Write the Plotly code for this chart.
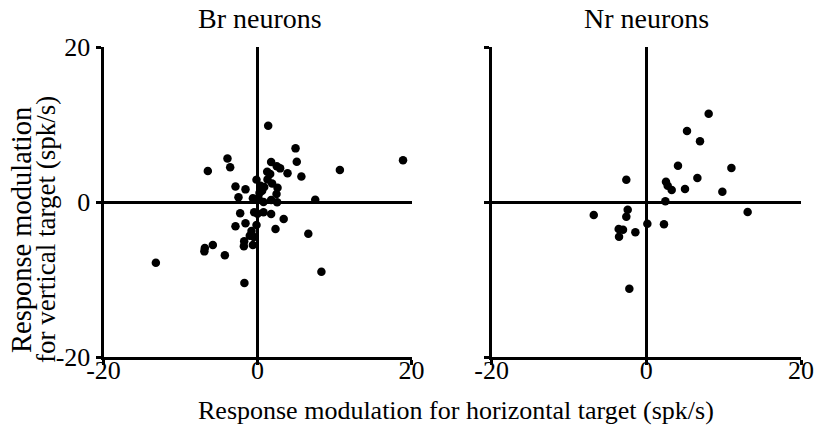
import plotly.graph_objects as go

# ---- data ----
br_x = [1.39, 4.94, -3.9, 18.9, 5.1, -6.45, -3.55, 1.77, 10.7, 2.5, 2.94, 1.26, 1.65, 3.9, 5.7,
        -0.13, -2.86, -1.56, 0.39, 0.87, 1.9, 2.6, 0.6, 0.26, 2.47, -2.47, -0.6, 7.5, 0.78, 1.77,
        2.55, -2.25, -0.43, 0.0, 0.78, 1.77, 3.4, -1.56, -0.13, -2.86, 2.34, -0.78, -1.0, -0.48,
        6.6, -1.73, -5.8, -6.84, -6.9, -1.77, -0.6, -4.24, -13.2, 8.3, -1.7, 0.13, 1.3]
br_y = [9.85, 6.92, 5.6, 5.4, 5.2, 4.0, 4.47, 5.16, 4.13, 4.6, 4.34, 3.9, 3.6, 3.7, 3.3,
        2.88, 2.0, 1.63, 2.1, 1.94, 2.4, 1.85, 1.46, 1.16, 1.03, 0.6, 0.47, 0.3, 0.0, 0.26,
        -0.04, -1.46, -1.33, -1.5, -1.33, -1.55, -2.2, -2.75, -2.97, -3.14, -3.48, -3.74, -4.34, -4.5,
        -4.09, -5.08, -5.55, -5.94, -6.37, -5.72, -5.55, -6.88, -7.83, -9.0, -10.45, 0.5, 2.9]

nr_x = [8.06, 5.26, 6.94, 4.09, 11.0, -2.59, 6.6, 2.54, 2.76, 3.28, 5.0, 9.83, 2.46, 13.1,
        -6.8, -2.41, -2.59, 0.13, 2.28, -3.58, -3.02, -3.53, -1.42, -2.2]
nr_y = [11.4, 9.16, 7.83, 4.69, 4.39, 2.88, 3.1, 2.62, 2.1, 1.55, 1.68, 1.33, 0.09, -1.29,
        -1.68, -0.99, -1.89, -2.8, -2.88, -3.48, -3.57, -4.47, -3.91, -11.18]

titles = ["Br neurons", "Nr neurons"]
tick_vals = [-20, 0, 20]
tick_text = ["-20", "0", "20"]
x_title = "Response modulation for horizontal target (spk/s)"
y_title_lines = ["Response modulation", "for vertical target (spk/s)"]

W, H = 819, 434
FONT = "Liberation Serif"

fig = go.Figure()
marker = dict(color="black", size=8.5)
fig.add_trace(go.Scatter(x=br_x, y=br_y, mode="markers", marker=marker, xaxis="x", yaxis="y",
                         showlegend=False))
fig.add_trace(go.Scatter(x=nr_x, y=nr_y, mode="markers", marker=marker, xaxis="x2", yaxis="y2",
                         showlegend=False))

ydom = [1 - 357 / H, 1 - 47 / H]
common = dict(range=[-20, 20], showgrid=False, zeroline=True, zerolinecolor="black",
              zerolinewidth=3, showline=True, linecolor="black", linewidth=3,
              ticks="outside", ticklen=5, tickwidth=2.5, tickcolor="black",
              tickvals=tick_vals, ticktext=tick_text, automargin=False,
              tickfont=dict(family=FONT, size=26, color="black"))

fig.update_layout(
    width=W, height=H, margin=dict(l=0, r=0, t=0, b=0, autoexpand=False),
    plot_bgcolor="white", paper_bgcolor="white",
    xaxis=dict(domain=[103.5 / W, 411.5 / W], anchor="y", ticklabelstandoff=-17, **common),
    yaxis=dict(domain=ydom, anchor="x", **common),
    xaxis2=dict(domain=[491.7 / W, 801 / W], anchor="y2", ticklabelstandoff=-17, **common),
    yaxis2=dict(domain=ydom, anchor="x2", showticklabels=False, **common),
)

ann = []
for t, cx in zip(titles, [260, 646]):
    ann.append(dict(text=t, x=cx / W, y=1 - 19 / H, xref="paper", yref="paper",
                    xanchor="center", yanchor="middle", showarrow=False,
                    font=dict(family=FONT, size=28, color="black")))
ann.append(dict(text=x_title, x=455.5 / W, y=1 - 410 / H, xref="paper", yref="paper",
                xanchor="center", yanchor="middle", showarrow=False,
                font=dict(family=FONT, size=26, color="black")))
for line, cx, fs in zip(y_title_lines, [21, 46], [28.5, 27]):
    ann.append(dict(text=line, x=cx / W, y=1 - 230 / H, xref="paper", yref="paper",
                    xanchor="center", yanchor="middle", showarrow=False, textangle=-90,
                    font=dict(family=FONT, size=fs, color="black")))
fig.update_layout(annotations=ann)

fig.write_html("out.html")
